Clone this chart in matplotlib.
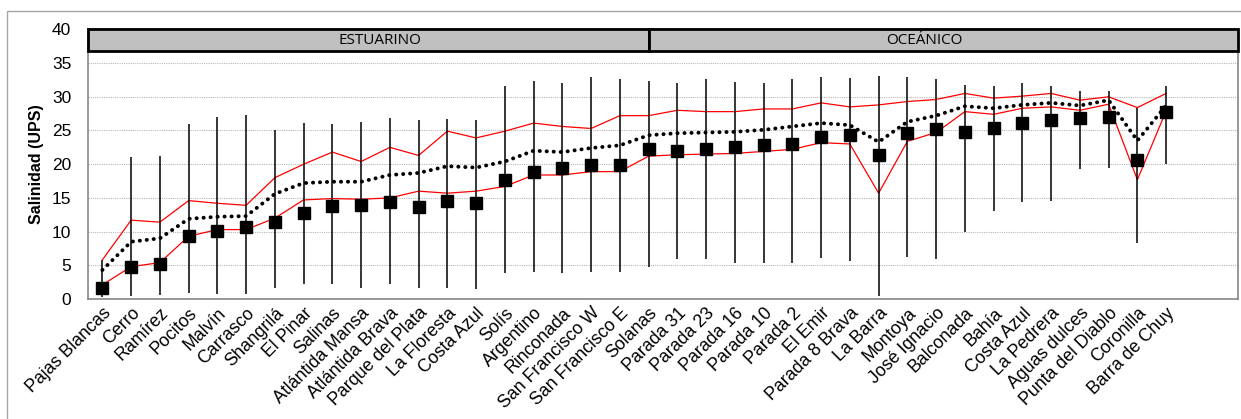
import matplotlib.pyplot as plt
from matplotlib.patches import Rectangle
import numpy as np

plt.rcParams['font.family'] = ['Liberation Sans', 'DejaVu Sans']

playas = ['Pajas Blancas', 'Cerro', 'Ramírez', 'Pocitos', 'Malvín', 'Carrasco',
          'Shangrilá', 'El Pinar', 'Salinas', 'Atlántida Mansa', 'Atlántida Brava',
          'Parque del Plata', 'La Floresta', 'Costa Azul', 'Solís', 'Argentino',
          'Rinconada', 'San Francisco W', 'San Francisco E', 'Solanas',
          'Parada 31', 'Parada 23', 'Parada 16', 'Parada 10', 'Parada 2', 'El Emir',
          'Parada 8 Brava', 'La Barra', 'Montoya', 'José Ignacio', 'Balconada',
          'Bahía', 'Costa Azul', 'La Pedrera', 'Aguas dulces', 'Punta del Diablo',
          'Coronilla', 'Barra de Chuy']

# valor puntual (cuadrados)
valor = [1.6, 4.7, 5.2, 9.3, 10.1, 10.7, 11.4, 12.8, 13.8, 14.0, 14.4, 13.6,
         14.5, 14.2, 17.6, 18.9, 19.5, 19.9, 19.9, 22.2,
         22.0, 22.3, 22.5, 22.8, 23.0, 24.1, 24.3, 21.3, 24.7, 25.2, 24.8,
         25.4, 26.1, 26.6, 26.9, 27.0, 20.6, 27.8]
# promedio (linea punteada)
promedio = [4.3, 8.5, 9.0, 11.9, 12.2, 12.3, 15.6, 17.2, 17.4, 17.4, 18.4, 18.7,
            19.7, 19.5, 20.4, 22.0, 21.8, 22.4, 22.8, 24.3,
            24.6, 24.7, 24.8, 25.1, 25.6, 26.1, 25.8, 23.3, 26.3, 27.2, 28.6,
            28.3, 28.8, 29.1, 28.7, 29.5, 23.5, 28.7]
# percentiles (lineas rojas)
p_sup = [5.8, 11.7, 11.4, 14.6, 14.2, 13.9, 18.0, 20.0, 21.8, 20.4, 22.5, 21.3,
         24.9, 23.9, 24.9, 26.1, 25.6, 25.3, 27.2, 27.2,
         28.0, 27.8, 27.8, 28.2, 28.2, 29.1, 28.5, 28.8, 29.3, 29.6, 30.5,
         29.8, 30.1, 30.5, 29.5, 30.0, 28.4, 30.5]
p_inf = [2.1, 4.8, 5.4, 9.3, 10.3, 10.3, 12.0, 14.7, 14.9, 14.8, 15.0, 16.0,
         15.7, 16.0, 16.7, 18.4, 18.4, 18.9, 18.9, 21.2,
         21.4, 21.5, 21.6, 21.9, 22.2, 23.2, 23.0, 15.7, 23.4, 24.7, 27.8,
         27.4, 28.3, 28.5, 28.0, 28.9, 17.7, 27.9]
# maximo y minimo (barras verticales)
maximo = [5.8, 21.0, 21.2, 26.0, 27.0, 27.3, 25.0, 26.1, 26.0, 26.2, 26.8, 26.6,
          26.7, 26.6, 31.6, 32.4, 32.1, 33.0, 32.6, 32.4,
          32.1, 32.6, 32.2, 32.1, 32.6, 33.0, 32.8, 33.1, 32.9, 32.6, 31.8,
          31.6, 32.0, 31.6, 30.8, 30.9, 28.4, 31.6]
minimo = [0.3, 0.5, 0.6, 0.85, 0.8, 0.7, 1.7, 2.2, 2.2, 1.7, 2.2, 1.7,
          1.6, 1.5, 3.8, 4.05, 3.8, 4.05, 3.96, 4.8,
          6.0, 6.0, 5.3, 5.3, 5.3, 6.1, 5.7, 0.45, 6.3, 6.0, 9.9,
          13.0, 14.4, 14.6, 19.3, 19.5, 8.3, 20.0]

grupos = ['ESTUARINO', 'OCEÁNICO']
n_estuarino = 20

x = np.arange(len(playas))

fig = plt.figure(figsize=(12.41, 4.19), dpi=100)
fig.patches.append(Rectangle((7 / 1241, -0.1), 1.2, 1.1 - 11 / 419,
                             transform=fig.transFigure, fill=False,
                             edgecolor='#a6a6a6', linewidth=1.0))
ax = fig.add_axes([88 / 1241, 120 / 419, 1150 / 1241, 269.6 / 419])

ax.set_xlim(-0.5, 39.5)
ax.set_ylim(0, 40)

# lineas rojas y promedio
ax.plot(x, p_sup, color='#ff0000', linewidth=0.9, zorder=3)
ax.plot(x, p_inf, color='#ff0000', linewidth=0.9, zorder=3)
ax.plot(x, promedio, color='black', linewidth=2.8, linestyle=(0, (0.05, 1.75)),
        dash_capstyle='round', zorder=4)

# rango y valor
ax.vlines(x, minimo, maximo, color='black', linewidth=1.1, zorder=5)
ax.plot(x, valor, linestyle='none', marker='s', markersize=8.5, color='black',
        zorder=6)

# encabezado
borde = n_estuarino - 0.97
ax.add_patch(Rectangle((-0.5, 36.75), borde + 0.5, 3.25, facecolor='#c0c0c0',
                       edgecolor='black', linewidth=2, zorder=7, clip_on=False))
ax.add_patch(Rectangle((borde, 36.75), 39.5 - borde, 3.25, facecolor='#c0c0c0',
                       edgecolor='black', linewidth=2, zorder=7, clip_on=False))
ax.text(9.66, 38.35, grupos[0], ha='center', va='center', fontsize=11,
        family=['Open Sans', 'DejaVu Sans'], zorder=8)
ax.text(28.6, 38.35, grupos[1], ha='center', va='center', fontsize=11,
        family=['Open Sans', 'DejaVu Sans'], zorder=8)

ax.set_yticks(np.arange(0, 41, 5))
ax.tick_params(axis='y', length=0, pad=12, labelsize=12.5)
ax.set_xticks(x)
ax.set_xticklabels(playas, rotation=45, ha='right', rotation_mode='anchor',
                   fontsize=12.8)
ax.tick_params(axis='x', length=0, pad=4)
ax.grid(axis='y', color='#b8b8b8', linestyle=(0, (1, 1)), linewidth=0.8)
ax.set_axisbelow(True)
for s in ax.spines.values():
    s.set_color('#868686')
    s.set_linewidth(1.2)
ax.set_ylabel('Salinidad (UPS)', fontsize=11.5, fontweight='bold', labelpad=6)

fig.savefig('out.png', dpi=100)
